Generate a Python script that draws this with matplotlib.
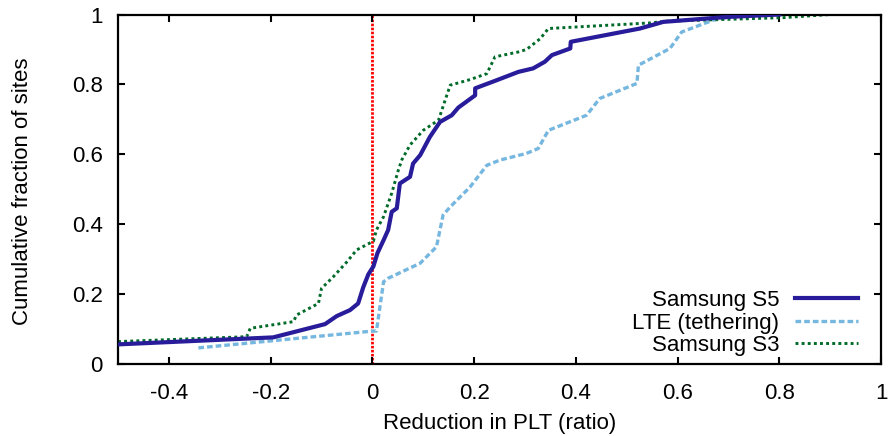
import matplotlib
matplotlib.use("Agg")
import matplotlib.pyplot as plt

plt.rcParams['font.family'] = ['Liberation Sans', 'DejaVu Sans']

s5_x = [-0.5, -0.195, -0.093, -0.07, -0.044, -0.028, -0.018, -0.008, 0.002, 0.01, 0.022, 0.031,
        0.038, 0.048, 0.054, 0.074, 0.08, 0.094, 0.113, 0.133, 0.156, 0.169, 0.202, 0.202, 0.244,
        0.287, 0.316, 0.339, 0.353, 0.389, 0.39, 0.526, 0.572, 0.697, 0.8]
s5_y = [0.057, 0.077, 0.115, 0.138, 0.155, 0.174, 0.22, 0.257, 0.28, 0.318, 0.355, 0.384,
        0.436, 0.446, 0.517, 0.536, 0.574, 0.598, 0.65, 0.693, 0.712, 0.734, 0.769, 0.789, 0.812,
        0.836, 0.846, 0.865, 0.884, 0.903, 0.922, 0.96, 0.979, 0.993, 1.0]

lte_x = [-0.342, 0.0, 0.008, 0.022, 0.031, 0.094, 0.126, 0.139, 0.153, 0.192, 0.225, 0.251,
         0.303, 0.326, 0.346, 0.421, 0.447, 0.52, 0.523, 0.585, 0.608, 0.67, 0.709, 0.75]
lte_y = [0.047, 0.095, 0.095, 0.236, 0.246, 0.289, 0.336, 0.427, 0.45, 0.507, 0.569, 0.584,
         0.603, 0.617, 0.669, 0.712, 0.76, 0.803, 0.855, 0.903, 0.95, 0.984, 0.995, 1.0]

s3_x = [-0.5, -0.247, -0.24, -0.155, -0.149, -0.106, -0.1, -0.077, -0.05, -0.031, 0.002, 0.008,
        0.022, 0.038, 0.051, 0.058, 0.074, 0.1, 0.13, 0.143, 0.153, 0.192, 0.225, 0.241, 0.287,
        0.303, 0.33, 0.346, 0.546, 0.579, 0.807, 0.9]
s3_y = [0.065, 0.079, 0.103, 0.122, 0.141, 0.174, 0.217, 0.25, 0.293, 0.327, 0.352, 0.384,
        0.422, 0.489, 0.555, 0.585, 0.627, 0.669, 0.698, 0.755, 0.798, 0.814, 0.831, 0.879, 0.893,
        0.9, 0.931, 0.96, 0.976, 0.981, 0.991, 1.0]

labels = ["Samsung S5", "LTE (tethering)", "Samsung S3"]
xticks = [-0.4, -0.2, 0, 0.2, 0.4, 0.6, 0.8, 1]
xtick_labels = ["-0.4", "-0.2", "0", "0.2", "0.4", "0.6", "0.8", "1"]
yticks = [0, 0.2, 0.4, 0.6, 0.8, 1]
ytick_labels = ["0", "0.2", "0.4", "0.6", "0.8", "1"]

FS = 16

fig = plt.figure(figsize=(8.9, 4.36), dpi=100)
ax = fig.add_axes([0.1326, 0.1644, 0.99 - 0.1326, 0.9667 - 0.1644])

ax.axvline(0, color='#ff0000', lw=2.0, dashes=(0.9, 0.55), zorder=1)
ax.plot(s5_x, s5_y, color='#281c9b', lw=3.0, label=labels[0], zorder=3)
ax.plot(lte_x, lte_y, color='#76b7e0', lw=2.4, dashes=(1.7, 0.9), label=labels[1], zorder=2)
ax.plot(s3_x, s3_y, color='#006a28', lw=2.1, dashes=(1, 1.1), label=labels[2], zorder=2)

ax.set_xlim(-0.5, 1)
ax.set_ylim(0, 1)
ax.set_xticks(xticks)
ax.set_xticklabels(xtick_labels)
ax.set_yticks(yticks)
ax.set_yticklabels(ytick_labels)
ax.tick_params(direction='in', length=5, width=1.5, top=True, right=True,
               labelsize=FS, colors='black')
ax.tick_params(axis='x', pad=13.5)
ax.tick_params(axis='y', pad=11)
for sp in ax.spines.values():
    sp.set_linewidth(1.6)

ax.set_xlabel("Reduction in PLT (ratio)", fontsize=FS)
ax.set_ylabel("Cumulative fraction of sites", fontsize=FS)
ax.xaxis.set_label_coords(0.5, -0.14)
ax.yaxis.set_label_coords(-0.112, 0.495)

leg = ax.legend(loc='lower right', bbox_to_anchor=(0.982, -0.002), frameon=False,
                markerfirst=False, fontsize=FS, handlelength=2.85, handletextpad=0.72,
                labelspacing=0.07, borderaxespad=0.0)

fig.savefig("out.png", dpi=100)
